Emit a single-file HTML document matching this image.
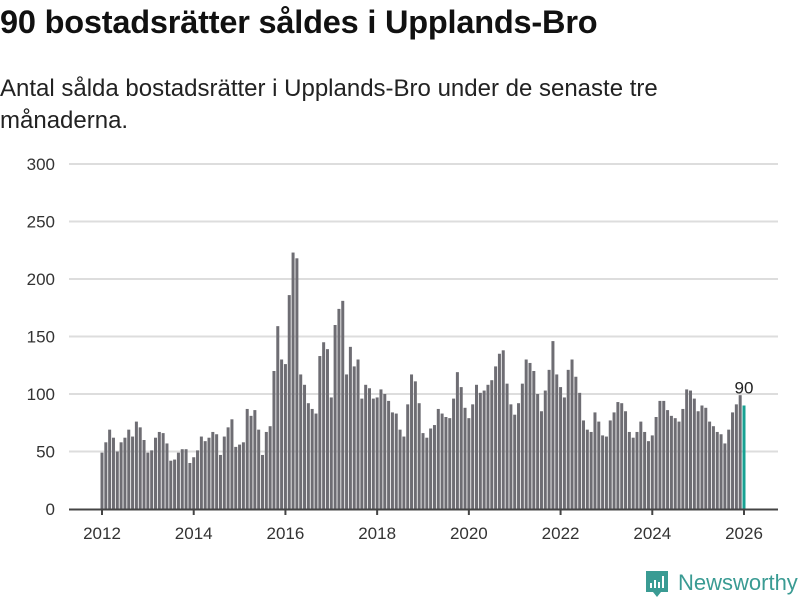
<!DOCTYPE html>
<html><head><meta charset="utf-8"><style>
body{margin:0;width:800px;height:600px;background:#fff;font-family:"Liberation Sans",sans-serif;overflow:hidden;position:relative}
h1{position:absolute;left:0;top:4px;margin:0;font-size:32.5px;font-weight:bold;color:#111;letter-spacing:-0.2px}
p{position:absolute;left:0;top:73px;margin:0;width:700px;font-size:24px;line-height:32px;color:#222}
svg{position:absolute;left:0;top:0}
</style></head><body>
<h1>90 bostadsrätter såldes i Upplands-Bro</h1>
<p>Antal sålda bostadsrätter i Upplands-Bro under de senaste tre månaderna.</p>
<svg id="chart" width="800" height="600"></svg>
<script>
const yTicks=[0,50,100,150,200,250,300];
const xTickLabels=["2012","2014","2016","2018","2020","2022","2024","2026"];
const startYear=2012;
const values=[49,58,69,62,50,58,62,69,63,76,71,60,49,51,62,67,66,57,42,43,49,52,52,40,45,51,63,59,62,67,65,47,63,71,78,
54,56,58,87,81,86,69,47,67,72,120,159,130,126,186,223,218,117,108,92,87,83,133,145,139,97,160,174,181,117,141,124,130,96,108,105,
96,97,104,100,94,84,83,69,63,91,117,111,92,66,62,70,73,87,83,80,79,96,119,106,88,79,91,108,101,103,108,112,124,135,138,
109,91,82,92,109,130,127,120,100,85,103,121,146,117,106,97,121,130,115,101,77,69,67,84,76,64,63,77,84,93,92,85,67,62,
67,76,67,59,64,80,94,94,86,81,79,76,87,104,103,96,85,90,88,76,72,67,65,57,69,84,91,99,90];
const NS="http://www.w3.org/2000/svg";
const svg=document.getElementById('chart');
const y0=509,y1=164,vmax=300;
const y=v=>y0-(v/vmax)*(y0-y1);
const xStart=102,xEnd=744,nMonths=168;
const x=i=>xStart+i*(xEnd-xStart)/nMonths;
function mk(t,a){const e=document.createElementNS(NS,t);for(const k in a)e.setAttribute(k,a[k]);svg.appendChild(e);return e;}
yTicks.forEach(v=>{
  if(v>0){const g=mk('line',{x1:69,x2:778,y1:y(v),y2:y(v),stroke:'#ddd','stroke-width':2});
  
  }
  const t=mk('text',{x:55,y:y(v)+6,'text-anchor':'end','font-size':17,fill:'#333','font-family':'Liberation Sans, sans-serif'});
  t.textContent=v;
  
  
});
values.forEach((v,i)=>{
  const last=i===values.length-1;
  const r=mk('rect',{x:x(i)-1.5,y:y(v),width:3,height:y0-y(v),fill:last?'#17a192':'#6e6d73'});
  
  
});
const ax=mk('line',{x1:69,x2:778,y1:y0+0.5,y2:y0+0.5,stroke:'#444','stroke-width':2});


xTickLabels.forEach(l=>{
  const xi=x((+l-startYear)*12);
  const tk=mk('line',{x1:xi,x2:xi,y1:y0,y2:y0+6,stroke:'#444','stroke-width':2});
  
  
  const t=mk('text',{x:xi,y:539,'text-anchor':'middle','font-size':17,fill:'#333','font-family':'Liberation Sans, sans-serif'});
  t.textContent=l;
  
  
});
const li=values.length-1;
const lab=mk('text',{x:x(li),y:y(values[li])-12,'text-anchor':'middle','font-size':17,fill:'#222','font-family':'Liberation Sans, sans-serif'});
lab.textContent=values[li];


</script>
<svg width="800" height="600" style="position:absolute;left:0;top:0">
<path d="M646 571 h22 v21 h-7 l-4 5 l-4 -5 h-7 z" fill="#3a9b93"/>
<rect x="650" y="583" width="2" height="5" fill="#fff"/><rect x="654" y="580" width="2" height="8" fill="#fff"/><rect x="658" y="582" width="2" height="6" fill="#fff"/><rect x="662" y="576" width="2" height="12" fill="#fff"/>
<text x="678" y="590" font-size="22" fill="#3a9b93" font-family="Liberation Sans, sans-serif">Newsworthy</text>
</svg>
</body></html>
